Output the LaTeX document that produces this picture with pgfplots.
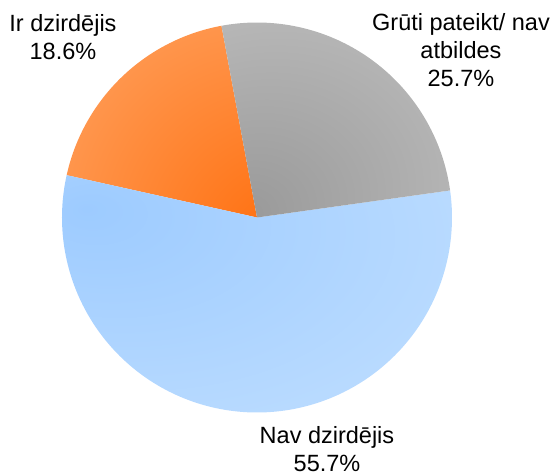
\documentclass[border=0pt]{standalone}
\usepackage{fontspec}
\setmainfont{Liberation Sans}
\usepackage{pgfplots}
\pgfplotsset{compat=1.18}
% slice shadings: dark spot near the pie centre, lighter outwards
\pgfdeclareradialshading{orangeshade}{\pgfpoint{40bp}{-40bp}}{%
  color(0bp)=(rgb,255:red,255;green,102;blue,0);
  color(72bp)=(rgb,255:red,255;green,168;blue,106);
  color(140bp)=(rgb,255:red,255;green,168;blue,106)}
\pgfdeclareradialshading{grayshade}{\pgfpoint{-20bp}{-25bp}}{%
  color(0bp)=(rgb,255:red,153;green,153;blue,153);
  color(50bp)=(rgb,255:red,189;green,189;blue,189);
  color(100bp)=(rgb,255:red,189;green,189;blue,189)}
\pgfdeclareradialshading{blueshade}{\pgfpoint{-22bp}{18bp}}{%
  color(0bp)=(rgb,255:red,157;green,203;blue,255);
  color(65bp)=(rgb,255:red,202;green,228;blue,255);
  color(100bp)=(rgb,255:red,202;green,228;blue,255)}
\tikzset{lbl/.style={font=\fontsize{23.5bp}{28bp}\selectfont, align=center, anchor=base, inner sep=0pt}}
\begin{document}
\begin{tikzpicture}
% shares in percent
\def\pIr{18.6}
\def\pGr{25.7}
\def\pNav{55.7}
\pgfmathsetmacro{\aA}{100.5}
\pgfmathsetmacro{\aB}{\aA+3.6*\pIr}
\pgfmathsetmacro{\aC}{\aB+3.6*\pNav}
\pgfmathsetmacro{\aD}{\aC+3.6*\pGr}
\begin{axis}[
    scale only axis,
    width=555bp, height=472bp,
    xmin=-1.3179, xmax=1.5282,
    ymin=-1.3051, ymax=1.1154,
    hide axis, clip=false,
]
\addplot[draw=none, shading=orangeshade, domain=\aA:\aB, samples=80]
    ({cos(x)},{sin(x)}) -- (axis cs:0,0) -- cycle;
\addplot[draw=none, shading=blueshade, domain=\aB:\aC, samples=160]
    ({cos(x)},{sin(x)}) -- (axis cs:0,0) -- cycle;
\addplot[draw=none, shading=grayshade, domain=\aC:\aD, samples=80]
    ({cos(x)},{sin(x)}) -- (axis cs:0,0) -- cycle;
% labels (anchor = baseline of the last line)
\node[lbl] at (axis cs:-0.995,0.8128) {Ir dzirdējis\\18.6\%};
\node[lbl] at (axis cs:1.046,0.6708) {Grūti pateikt/ nav\\atbildes\\25.7\%};
\node[lbl] at (axis cs:0.359,-1.300) {Nav dzirdējis\\55.7\%};
\end{axis}
\pgfresetboundingbox
\path (current axis.south west) rectangle (current axis.north east);
\end{tikzpicture}
\end{document}
